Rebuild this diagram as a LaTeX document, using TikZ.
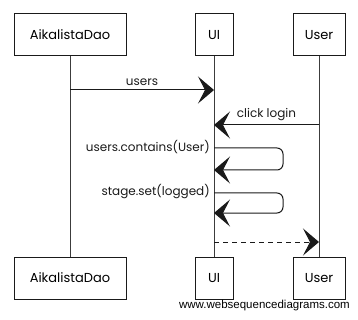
\documentclass[tikz,border=0pt]{standalone}
\usepackage{fontspec}
\setmainfont{Poppins}
\newfontfamily\sitefont{Liberation Sans}
\usetikzlibrary{arrows.meta,positioning,calc}
\definecolor{seqdark}{HTML}{1A1A1A}
\definecolor{seqlife}{HTML}{3C3C3C}
\tikzstyle{actor} = [rectangle, draw=seqdark, line width=1pt, minimum height=42pt,
    inner sep=0pt, font=\fontsize{13}{15}\selectfont]
\tikzstyle{lifeline} = [draw=seqlife, line width=1pt]
\tikzstyle{msg} = [-{Stealth[length=16pt, width=27pt, inset=7pt]}, line width=1pt, seqdark]
\tikzstyle{reply} = [msg, dash pattern=on 5pt off 4pt]
\tikzstyle{lbl} = [font=\fontsize{12}{14}\selectfont, inner sep=1pt, text=seqdark]

\begin{document}
\begin{tikzpicture}[x=1pt, y=-1pt]
\useasboundingbox (0,0) rectangle (358,320);
% participants
\node[actor, minimum width=112pt] (dao) at (70,35) {AikalistaDao};
\node[actor, minimum width=38pt] (ui) at (214,35) {UI};
\node[actor, minimum width=52pt] (user) at (319,35) {User};
\node[actor, minimum width=112pt, below=200pt of dao] (dao2) {AikalistaDao};
\node[actor, minimum width=38pt, below=200pt of ui] (ui2) {UI};
\node[actor, minimum width=52pt, below=200pt of user] (user2) {User};
% lifelines
\draw[lifeline] (dao) -- (dao2);
\draw[lifeline] (ui) -- (ui2);
\draw[lifeline] (user) -- (user2);
% message ends on the lifelines
\coordinate (m1s) at (dao.south |- 0,90);
\coordinate (m1e) at (ui.south |- 0,90);
\coordinate (m2s) at (user.south |- 0,125);
\coordinate (m2e) at (ui.south |- 0,125);
\coordinate (m3s) at (ui.south |- 0,148);
\coordinate (m3e) at (ui.south |- 0,170);
\coordinate (m4s) at (ui.south |- 0,193);
\coordinate (m4e) at (ui.south |- 0,213);
\coordinate (m5s) at (ui.south |- 0,242);
\coordinate (m5e) at (user.south |- 0,242);
% messages
\draw[msg] (m1s) -- node[lbl, above=3pt] {users} (m1e);
\draw[msg] (m2s) -- node[lbl, above=3pt] {click login} (m2e);
\draw[msg, rounded corners=6pt] (m3s) -- ++(69,0) |- (m3e);
\node[lbl, anchor=east] at ($(m3s)+(-3,-1)$) {users.contains(User)};
\draw[msg, rounded corners=6pt] (m4s) -- ++(69,0) |- (m4e);
\node[lbl, anchor=east] at ($(m4s)+(-3,-1)$) {stage.set(logged)};
\draw[reply] (m5s) -- (m5e);
\node[font=\sitefont\fontsize{11.5}{13}\selectfont, inner sep=0pt, anchor=east] (site) at (350,306) {www.websequencediagrams.com};
\end{tikzpicture}
\end{document}
